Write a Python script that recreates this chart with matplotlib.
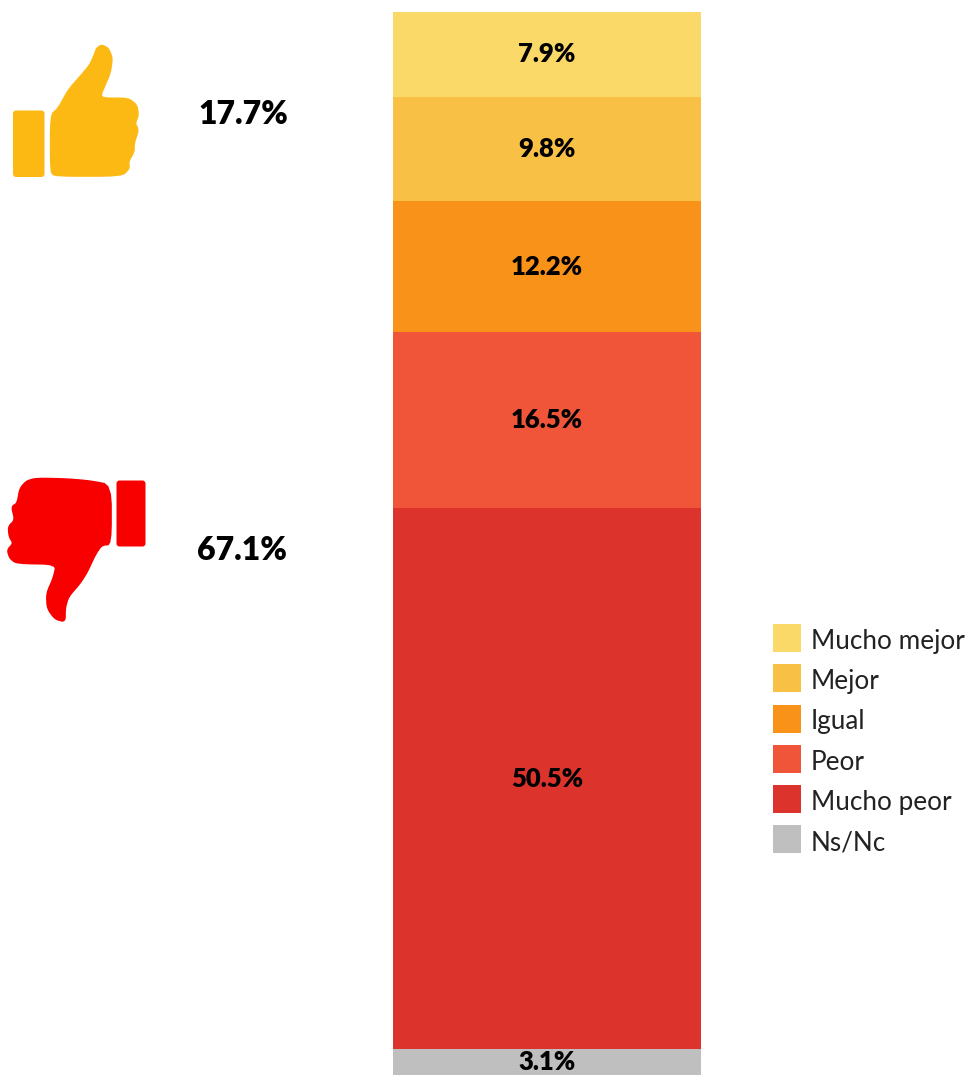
import matplotlib
matplotlib.use("Agg")
import matplotlib.pyplot as plt
from matplotlib.patches import Polygon, FancyBboxPatch
from matplotlib.transforms import Affine2D

plt.rcParams['font.family'] = ['Lato', 'DejaVu Sans']

categories = ["Mucho mejor", "Mejor", "Igual", "Peor", "Mucho peor", "Ns/Nc"]
values = [7.9, 9.8, 12.2, 16.5, 50.5, 3.1]
colors = ["#FBD968", "#F8C045", "#F99218", "#F05539", "#DC342C", "#BFBFBF"]
summary_labels = ["17.7%", "67.1%"]

W, H = 970, 1075
fig = plt.figure(figsize=(W / 100, H / 100), dpi=100, facecolor="white")


def box(x0, y0, x1, y1):
    return [x0 / W, 1 - y1 / H, (x1 - x0) / W, (y1 - y0) / H]


# Stacked bar (the bar runs off the bottom edge of the picture)
ax = fig.add_axes(box(393, 12, 701, 1075))
ax.set_xlim(-0.5, 0.5)
ax.set_ylim(0.65, 100)
ax.axis("off")
visible_bottom = ax.get_ylim()[0]
top = sum(values)
handles = []
for name, value, color in zip(categories, values, colors):
    bottom = top - value
    bars = ax.bar(0, value, bottom=bottom, width=1.0, color=color, label=name, linewidth=0)
    handles.append(bars[0])
    centre = (max(bottom, visible_bottom) + top) / 2
    ax.annotate(f"{value:.1f}%", (0, centre), xytext=(0, 0), textcoords="offset points",
                ha="center", va="center", fontsize=18.5, fontweight="heavy", color="black",
                annotation_clip=False)
    top = bottom

legend_size = 18.8
leg = fig.legend(handles=handles, labels=categories, loc="upper left",
                 bbox_to_anchor=(773 / W, 1 - 624 / H), bbox_transform=fig.transFigure,
                 frameon=False, fontsize=legend_size, borderpad=0, borderaxespad=0,
                 handlelength=20.2 / legend_size,
                 handleheight=(20.2 / legend_size - 0.245) / 0.65,
                 handletextpad=0.38, labelspacing=8.8 / legend_size, labelcolor="#222222")
for label in leg.get_texts():
    label.set_transform(label.get_transform() + Affine2D().translate(0, -2))

# Overlay in pixel units for the icons and the summary figures
ov = fig.add_axes([0, 0, 1, 1])
ov.set_xlim(0, W)
ov.set_ylim(H, 0)
ov.axis("off")
ov.patch.set_alpha(0)

up = [(152, 255), (175, 235), (205, 180), (240, 140), (270, 105), (285, 70), (290, 55), (305, 45),
      (325, 55), (337, 85), (330, 130), (315, 165), (302, 195), (310, 205), (385, 205), (410, 225),
      (415, 255), (405, 280), (415, 300), (402, 340), (402, 365), (385, 395), (388, 415), (365, 438),
      (165, 438), (152, 425)]
down = [(333, 60), (270, 48), (200, 42), (110, 40), (80, 48), (60, 70), (52, 115), (35, 125),
        (45, 165), (25, 185), (28, 215), (40, 235), (22, 255), (30, 280), (50, 295), (170, 297),
        (160, 340), (140, 385), (142, 430), (165, 462), (195, 470), (195, 430), (205, 395),
        (240, 355), (262, 320), (285, 270), (305, 240), (333, 238)]


def smooth(points, rounds=2):
    # corner cutting, so the traced outline loses its facets
    for _ in range(rounds):
        out = []
        for i, (x0, y0) in enumerate(points):
            x1, y1 = points[(i + 1) % len(points)]
            out.append((0.8 * x0 + 0.2 * x1, 0.8 * y0 + 0.2 * y1))
            out.append((0.2 * x0 + 0.8 * x1, 0.2 * y0 + 0.8 * y1))
        points = out
    return points


def icon(points, ox, oy, color):
    pts = [(ox + x / 3, oy + y / 3) for x, y in smooth(points)]
    ov.add_patch(Polygon(pts, closed=True, facecolor=color, edgecolor=color, linewidth=1.2, joinstyle="round"))


def rounded(x0, y0, x1, y1, color):
    ov.add_patch(FancyBboxPatch((x0 + 3, y0 + 3), x1 - x0 - 6, y1 - y0 - 6,
                                boxstyle="round,pad=3", facecolor=color, edgecolor="none"))


icon(up, 0, 30, "#FDB913")
rounded(13, 110.5, 44.5, 177, "#FDB913")
icon(down, 0, 465, "#F90000")
rounded(116.5, 480.5, 145.5, 546.5, "#F90000")

ov.text(243, 115, summary_labels[0], ha="center", va="center", fontsize=23, fontweight="heavy", color="black")
ov.text(242, 551, summary_labels[1], ha="center", va="center", fontsize=23, fontweight="heavy", color="black")

fig.savefig("out.png", dpi=100, facecolor="white")
